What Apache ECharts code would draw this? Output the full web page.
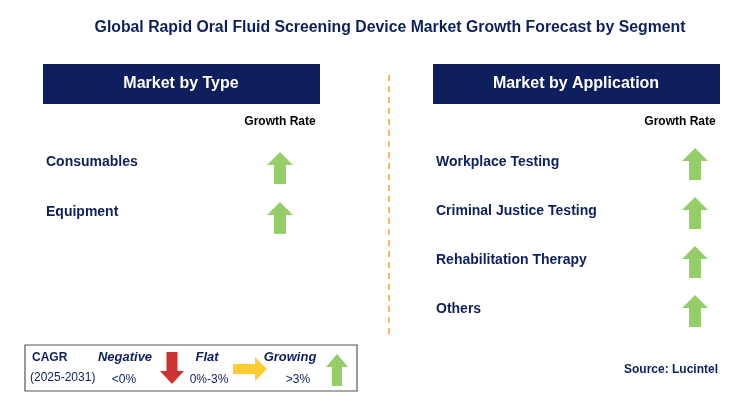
<html>
<head>
<meta charset="utf-8">
<script src="https://cdn.jsdelivr.net/npm/echarts@6/dist/echarts.min.js"></script>
<style>body{margin:0;background:#fff}#main{width:753px;height:402px}</style>
</head>
<body>
<div id="main"></div>
<script>
var title = 'Global Rapid Oral Fluid Screening Device Market Growth Forecast by Segment';
var typeNames = ['Consumables', 'Equipment'];
var typeTrend = ['up', 'up'];
var appNames = ['Workplace Testing', 'Criminal Justice Testing', 'Rehabilitation Therapy', 'Others'];
var appTrend = ['up', 'up', 'up', 'up'];

var navy = '#0d1f5c', green = '#7ac143';
var upArrow = 'path://M13,0 L26,13 L19,13 L19,32 L7,32 L7,13 L0,13 Z';
var downArrow = 'path://M7,0 L19,0 L19,19 L26,19 L13,32 L0,19 L7,19 Z';
var rightArrow = 'path://M0,7 L22,7 L22,0 L34,12 L22,24 L22,17 L0,17 Z';

// rows: y position from index
var leftRows = typeNames.map(function (n, i) { return [280, 168 + i * 50, n]; });
var rightRows = appNames.map(function (n, i) { return [695, 164 + i * 49, n]; });

var chart = echarts.init(document.getElementById('main'));
chart.setOption({
  animation: false,
  grid: { left: 0, right: 0, top: 0, bottom: 0 },
  xAxis: { type: 'value', min: 0, max: 753, show: false },
  yAxis: { type: 'value', min: 0, max: 402, inverse: true, show: false },
  graphic: [
    { type: 'text', x: 390, y: 28, style: { text: title, fill: navy, font: 'bold 15.8px Arial', align: 'center', verticalAlign: 'middle' } },
    { type: 'rect', shape: { x: 43, y: 64, width: 277, height: 40 }, style: { fill: navy } },
    { type: 'text', x: 181, y: 84, style: { text: 'Market by Type', fill: '#fff', font: 'bold 16px Arial', align: 'center', verticalAlign: 'middle' } },
    { type: 'rect', shape: { x: 433, y: 64, width: 287, height: 40 }, style: { fill: navy } },
    { type: 'text', x: 576, y: 84, style: { text: 'Market by Application', fill: '#fff', font: 'bold 16px Arial', align: 'center', verticalAlign: 'middle' } },
    { type: 'text', x: 280, y: 122, style: { text: 'Growth Rate', fill: '#000', font: 'bold 12px Arial', align: 'center', verticalAlign: 'middle' } },
    { type: 'text', x: 680, y: 122, style: { text: 'Growth Rate', fill: '#000', font: 'bold 12px Arial', align: 'center', verticalAlign: 'middle' } },
    { type: 'line', shape: { x1: 389, y1: 75, x2: 389, y2: 338 }, style: { stroke: '#f5a623', lineWidth: 1.5, lineDash: [6, 5] } },
    { type: 'text', x: 46, y: 162, style: { text: typeNames[0], fill: navy, font: 'bold 14px Arial', verticalAlign: 'middle' } },
    { type: 'text', x: 46, y: 212, style: { text: typeNames[1], fill: navy, font: 'bold 14px Arial', verticalAlign: 'middle' } },
    { type: 'rect', shape: { x: 25, y: 345, width: 332, height: 46 }, style: { fill: '#fff', stroke: '#555', lineWidth: 1.2 } },
    { type: 'text', x: 32, y: 358, style: { text: 'CAGR', fill: navy, font: 'bold 12px Arial', verticalAlign: 'middle' } },
    { type: 'text', x: 30, y: 378, style: { text: '(2025-2031)', fill: navy, font: '12px Arial', verticalAlign: 'middle' } },
    { type: 'text', x: 125, y: 357, style: { text: 'Negative', fill: navy, font: 'italic bold 13px Arial', align: 'center', verticalAlign: 'middle' } },
    { type: 'text', x: 124, y: 380, style: { text: '<0%', fill: navy, font: '12px Arial', align: 'center', verticalAlign: 'middle' } },
    { type: 'text', x: 207, y: 357, style: { text: 'Flat', fill: navy, font: 'italic bold 13px Arial', align: 'center', verticalAlign: 'middle' } },
    { type: 'text', x: 209, y: 380, style: { text: '0%-3%', fill: navy, font: '12px Arial', align: 'center', verticalAlign: 'middle' } },
    { type: 'text', x: 290, y: 357, style: { text: 'Growing', fill: navy, font: 'italic bold 13px Arial', align: 'center', verticalAlign: 'middle' } },
    { type: 'text', x: 298, y: 380, style: { text: '>3%', fill: navy, font: '12px Arial', align: 'center', verticalAlign: 'middle' } },
    { type: 'text', x: 718, y: 370, style: { text: 'Source: Lucintel', fill: navy, font: 'bold 12px Arial', align: 'right', verticalAlign: 'middle' } }
  ].concat(appNames.map(function (n, i) {
    return { type: 'text', x: 436, y: 162 + i * 49, style: { text: n, fill: navy, font: 'bold 14px Arial', verticalAlign: 'middle' } };
  })),
  series: [
    { type: 'scatter', symbol: upArrow, symbolSize: [26, 32], itemStyle: { color: green },
      data: leftRows.filter(function (r, i) { return typeTrend[i] === 'up'; }) },
    { type: 'scatter', symbol: upArrow, symbolSize: [26, 32], itemStyle: { color: green },
      data: rightRows.filter(function (r, i) { return appTrend[i] === 'up'; }) },
    { type: 'scatter', symbol: downArrow, symbolSize: [24, 32], itemStyle: { color: '#c00000' }, data: [[172, 368]] },
    { type: 'scatter', symbol: rightArrow, symbolSize: [34, 24], itemStyle: { color: '#ffc000' }, data: [[250, 369]] },
    { type: 'scatter', symbol: upArrow, symbolSize: [22, 32], itemStyle: { color: green }, data: [[337, 370]] }
  ]
});
</script>
</body>
</html>
